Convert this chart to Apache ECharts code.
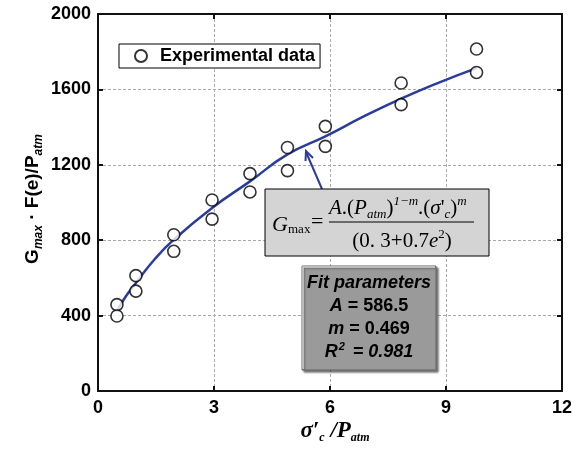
<!DOCTYPE html>
<html>
<head>
<meta charset="utf-8">
<script src="https://cdn.jsdelivr.net/npm/echarts@6/dist/echarts.min.js"></script>
<style>html,body{margin:0;padding:0;background:#fff}#c{width:580px;height:454px}</style>
</head>
<body>
<div id="c"></div>
<script>
// Data
const expX = [0.49,0.49,0.98,0.98,1.96,1.96,2.95,2.95,3.93,3.93,4.9,4.9,5.88,5.88,7.84,7.84,9.79,9.79];
const expY = [458,398,612,530,829,741,1013,912,1153,1056,1292,1169,1404,1298,1634,1519,1814,1690];
const fitX = [0.49,0.7,0.98,1.47,1.96,2.95,3.93,4.9,5.88,6.86,7.84,8.8,9.79];
const fitY = [422,496,573,700,803,971,1112,1255,1351,1455,1551,1635,1713];
const xTicks = [0,3,6,9,12];
const yTicks = [0,400,800,1200,1600,2000];
const fitParams = ['586.5','0.469','0.981'];

const chart = echarts.init(document.getElementById('c'));
const sans = 'Liberation Sans, Arial, sans-serif';
const serif = 'Liberation Serif, Times New Roman, serif';
const axisCommon = {
  axisLine:{show:true,onZero:false,lineStyle:{color:'#111',width:2}},
  axisTick:{show:true,inside:true,length:5,lineStyle:{color:'#111',width:2}},
  splitLine:{show:false},
  axisLabel:{show:false}
};
chart.setOption({
  animation:false,
  grid:{left:98,right:18,top:14,bottom:63,containLabel:false},
  legend:{
    data:['Experimental data'],
    left:119, top:44,
    padding:[3,5,3,15],
    itemWidth:28, itemHeight:12,
    borderColor:'#000', borderWidth:1, backgroundColor:'#fff',
    textStyle:{fontFamily:sans,fontWeight:'bold',fontSize:18,color:'#000'}
  },
  xAxis:[
    Object.assign({}, axisCommon, {
      type:'value', min:xTicks[0], max:xTicks[xTicks.length-1], interval:3, position:'bottom',
      axisLabel:{show:true,margin:8,fontFamily:sans,fontWeight:'bold',fontSize:18,color:'#000'},
      splitLine:{show:true,lineStyle:{color:'#aaa',type:[3,2],width:1}}
    }),
    Object.assign({}, axisCommon, {type:'value', min:0, max:12, interval:3, position:'top'})
  ],
  yAxis:[
    Object.assign({}, axisCommon, {
      type:'value', min:yTicks[0], max:yTicks[yTicks.length-1], interval:400, position:'left',
      axisLabel:{show:true,margin:7,fontFamily:sans,fontWeight:'bold',fontSize:18,color:'#000',formatter:v=>String(v)},
      splitLine:{show:true,lineStyle:{color:'#aaa',type:[3,2],width:1}}
    }),
    Object.assign({}, axisCommon, {type:'value', min:0, max:2000, interval:400, position:'right'})
  ],
  series:[
    {
      name:'Fit', type:'line', smooth:true, showSymbol:false,
      data: fitX.map((x,i)=>[x,fitY[i]]),
      lineStyle:{color:'#2b3d9c',width:2.5}, z:3
    },
    {
      name:'Experimental data', type:'scatter', symbol:'circle', symbolSize:12,
      data: expX.map((x,i)=>[x,expY[i]]),
      itemStyle:{color:'#fff',borderColor:'#000',borderWidth:1.6}, z:4
    }
  ],
  graphic:[
    // y-axis title
    {type:'text', x:33, y:199, rotation:Math.PI/2, z:100,
     style:{text:'{b|G}{s|max}{b| · F(e)/P}{s|atm}', textAlign:'center', textVerticalAlign:'middle', fill:'#000',
       font:'bold 19px '+sans,
       rich:{
         b:{fontFamily:sans,fontWeight:'bold',fontSize:19,lineHeight:24,fill:'#000'},
         s:{fontFamily:sans,fontWeight:'bold',fontStyle:'italic',fontSize:12,lineHeight:12,verticalAlign:'bottom',fill:'#000'}
       }}},
    // x-axis title
    {type:'text', x:335, y:431, z:100,
     style:{text:'{b|σ′}{s|c}{b| /P}{s|atm}', textAlign:'center', textVerticalAlign:'middle', fill:'#000',
       font:'italic bold 23px '+serif,
       rich:{
         b:{fontFamily:serif,fontWeight:'bold',fontStyle:'italic',fontSize:23,lineHeight:26,fill:'#000'},
         s:{fontFamily:serif,fontWeight:'bold',fontStyle:'italic',fontSize:12,lineHeight:12,verticalAlign:'bottom',fill:'#000'}
       }}},
    // arrow
    {type:'line', z:100, shape:{x1:322,y1:189,x2:306,y2:152}, style:{stroke:'#2b3d9c',lineWidth:2}},
    {type:'polyline', z:100, shape:{points:[[313,158],[306,151],[305.5,161]]}, style:{stroke:'#2b3d9c',lineWidth:2,fill:null}},
    // formula box
    {type:'rect', z:100, shape:{x:265,y:189,width:224,height:67}, style:{fill:'#d4d4d4',stroke:'#000',lineWidth:1}},
    {type:'text', x:272, y:225, z:101, style:{text:'G', font:'italic 22px '+serif, fill:'#000', textAlign:'left', textVerticalAlign:'middle'}},
    {type:'text', x:288, y:230, z:101, style:{text:'max', font:'13px '+serif, fill:'#000', textAlign:'left', textVerticalAlign:'middle'}},
    {type:'text', x:311, y:222, z:101, style:{text:'=', font:'22px '+serif, fill:'#000', textAlign:'left', textVerticalAlign:'middle'}},
    {type:'text', x:329, y:208, z:101,
     style:{text:'{i|A}{n|.(}{i|P}{sb|atm}{n|)}{sp|1−m}{n|.(}{i|σ}{n|\'}{sb|c}{n|)}{sp|m}', textAlign:'left', textVerticalAlign:'middle', fill:'#000',
       font:'21px '+serif,
       rich:{
         n:{fontFamily:serif,fontSize:21,lineHeight:26,fill:'#000'},
         i:{fontFamily:serif,fontStyle:'italic',fontSize:21,lineHeight:26,fill:'#000'},
         sb:{fontFamily:serif,fontStyle:'italic',fontSize:13,lineHeight:13,verticalAlign:'bottom',fill:'#000'},
         sp:{fontFamily:serif,fontStyle:'italic',fontSize:13,lineHeight:13,verticalAlign:'top',fill:'#000'}
       }}},
    {type:'line', z:101, shape:{x1:329,y1:222,x2:474,y2:222}, style:{stroke:'#000',lineWidth:1}},
    {type:'text', x:402, y:241, z:101,
     style:{text:'{n|(0. 3+0.7}{i|e}{sp|2}{n|)}', textAlign:'center', textVerticalAlign:'middle', fill:'#000',
       font:'21px '+serif,
       rich:{
         n:{fontFamily:serif,fontSize:21,lineHeight:26,fill:'#000'},
         i:{fontFamily:serif,fontStyle:'italic',fontSize:21,lineHeight:26,fill:'#000'},
         sp:{fontFamily:serif,fontSize:13,lineHeight:13,verticalAlign:'top',fill:'#000'}
       }}},
    // fit parameter box
    {type:'rect', z:100, shape:{x:302,y:266,width:134,height:104},
     style:{fill:'#9a9a9a',stroke:'#666',lineWidth:1,shadowColor:'rgba(0,0,0,0.55)',shadowOffsetX:2,shadowOffsetY:2,shadowBlur:2}},
    {type:'polyline', z:101, shape:{points:[[303,369],[303,267],[435,267]]}, style:{stroke:'#d0d0d0',lineWidth:1.5,fill:null}},
    {type:'text', x:369, y:318, z:102,
     style:{text:'{bi|Fit parameters}\n{bi|A}{b| = '+fitParams[0]+'}\n{bi|m}{b| = '+fitParams[1]+'}\n{bi|R}{sp|2}{bi| = '+fitParams[2]+'}',
       textAlign:'center', textVerticalAlign:'middle', fill:'#000', font:'bold 18px '+sans,
       rich:{
         bi:{fontFamily:sans,fontWeight:'bold',fontStyle:'italic',fontSize:18,lineHeight:23,fill:'#000'},
         b:{fontFamily:sans,fontWeight:'bold',fontSize:18,lineHeight:23,fill:'#000'},
         sp:{fontFamily:sans,fontWeight:'bold',fontStyle:'italic',fontSize:11,lineHeight:11,verticalAlign:'top',fill:'#000',padding:[0,3,0,1]}
       }}}
  ]
});
</script>
</body>
</html>
